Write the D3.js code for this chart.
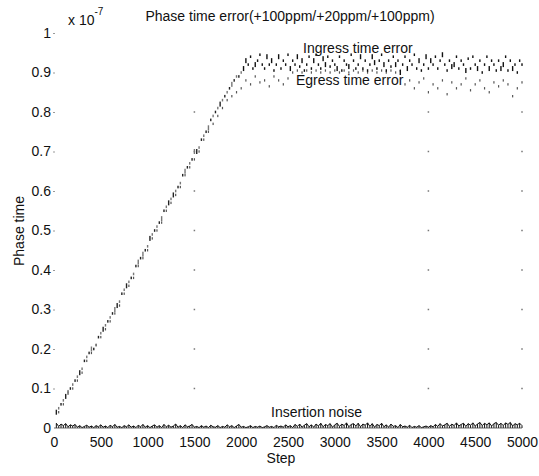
<!DOCTYPE html>
<html>
<head>
<meta charset="utf-8">
<script src="https://cdn.jsdelivr.net/npm/d3@7"></script>
<style>
  html, body { margin: 0; padding: 0; background: #fff; }
  svg text { font-family: "Liberation Sans", Arial, sans-serif; fill: #111; }
</style>
</head>
<body>
<svg id="chart" width="539" height="476"></svg>
<script>
// Phase time error, values in units of 1e-7
const xTicks = [0, 500, 1000, 1500, 2000, 2500, 3000, 3500, 4000, 4500, 5000];
const yTicks = [0, 0.1, 0.2, 0.3, 0.4, 0.5, 0.6, 0.7, 0.8, 0.9, 1];
const yTickLabels = ["0", "0.1", "0.2", "0.3", "0.4", "0.5", "0.6", "0.7", "0.8", "0.9", "1"];

// Ingress time error, sampled every 25 steps (25 .. 5000)
const ingressValues = [
  0.04, 0.05, 0.06, 0.07, 0.08, 0.09, 0.10, 0.11, 0.12, 0.13,
  0.14, 0.15, 0.17, 0.18, 0.19, 0.20, 0.20, 0.21, 0.23, 0.24,
  0.25, 0.26, 0.27, 0.28, 0.29, 0.30, 0.31, 0.32, 0.34, 0.35,
  0.36, 0.37, 0.38, 0.39, 0.41, 0.42, 0.43, 0.44, 0.45, 0.46,
  0.48, 0.49, 0.50, 0.51, 0.52, 0.53, 0.55, 0.56, 0.57, 0.58,
  0.59, 0.60, 0.61, 0.62, 0.64, 0.65, 0.66, 0.67, 0.68, 0.70,
  0.70, 0.71, 0.73, 0.74, 0.75, 0.76, 0.78, 0.79, 0.80, 0.81,
  0.82, 0.83, 0.84, 0.85, 0.86, 0.87, 0.88, 0.89, 0.89, 0.90,
  0.91, 0.93, 0.92, 0.94, 0.91, 0.92, 0.93, 0.945, 0.92, 0.91,
  0.94, 0.92, 0.93, 0.905, 0.92, 0.94, 0.91, 0.93, 0.92, 0.945,
  0.91, 0.93, 0.92, 0.94, 0.915, 0.93, 0.905, 0.92, 0.94, 0.91,
  0.93, 0.945, 0.92, 0.91, 0.935, 0.92, 0.94, 0.915, 0.93, 0.92,
  0.91, 0.94, 0.905, 0.93, 0.92, 0.915, 0.945, 0.93, 0.91, 0.92,
  0.94, 0.91, 0.93, 0.905, 0.92, 0.94, 0.925, 0.91, 0.93, 0.945,
  0.92, 0.905, 0.93, 0.915, 0.94, 0.92, 0.93, 0.90, 0.92, 0.94,
  0.91, 0.93, 0.92, 0.945, 0.91, 0.93, 0.905, 0.92, 0.94, 0.91,
  0.93, 0.92, 0.94, 0.91, 0.93, 0.945, 0.92, 0.905, 0.93, 0.915,
  0.92, 0.94, 0.91, 0.93, 0.92, 0.905, 0.935, 0.91, 0.94, 0.92,
  0.91, 0.93, 0.90, 0.92, 0.94, 0.91, 0.93, 0.92, 0.905, 0.93,
  0.91, 0.92, 0.94, 0.905, 0.93, 0.91, 0.92, 0.90, 0.93, 0.92
];

// Egress time error, sampled every 50 steps (50 .. 5000)
const egressValues = [
  0.04, 0.06, 0.09, 0.10, 0.12, 0.14, 0.17, 0.19, 0.21, 0.23,
  0.25, 0.27, 0.29, 0.31, 0.34, 0.36, 0.38, 0.41, 0.43, 0.45,
  0.48, 0.50, 0.52, 0.55, 0.57, 0.59, 0.61, 0.64, 0.66, 0.68,
  0.70, 0.73, 0.75, 0.77, 0.79, 0.81, 0.83, 0.84, 0.85, 0.86,
  0.88, 0.87, 0.89, 0.875, 0.88, 0.865, 0.89, 0.88, 0.87, 0.885,
  0.90, 0.905, 0.90, 0.905, 0.90, 0.905, 0.90, 0.905, 0.90, 0.905,
  0.90, 0.905, 0.90, 0.905, 0.90, 0.905, 0.90, 0.905, 0.90, 0.905,
  0.90, 0.905, 0.90, 0.905, 0.87, 0.88, 0.86, 0.875, 0.885, 0.85,
  0.87, 0.86, 0.88, 0.845, 0.875, 0.86, 0.87, 0.885, 0.855, 0.87,
  0.88, 0.86, 0.85, 0.875, 0.865, 0.88, 0.87, 0.84, 0.86, 0.875
];

// Insertion noise, sampled every 25 steps (25 .. 5000)
const noiseValues = [
  0.012, 0.004, 0.010, 0.006, 0.011, 0.003, 0.008, 0.005, 0.009, 0.002,
  0.006, 0.001, 0.004, 0.007, 0.002, 0.005, 0.001, 0.006, 0.003, 0.008,
  0.002, 0.005, 0.001, 0.007, 0.003, 0.009, 0.002, 0.004, 0.001, 0.006,
  0.003, 0.008, 0.002, 0.005, 0.001, 0.007, 0.003, 0.009, 0.002, 0.006,
  0.001, 0.005, 0.008, 0.002, 0.006, 0.001, 0.009, 0.003, 0.007, 0.002,
  0.005, 0.010, 0.002, 0.006, 0.001, 0.008, 0.003, 0.005, 0.009, 0.002,
  0.004, 0.001, 0.006, 0.002, 0.005, 0.001, 0.007, 0.003, 0.002, 0.006,
  0.001, 0.004, 0.002, 0.008, 0.003, 0.006, 0.001, 0.005, 0.009, 0.002,
  0.004, 0.001, 0.003, 0.006, 0.001, 0.004, 0.002, 0.005, 0.001, 0.003,
  0.006, 0.002, 0.004, 0.001, 0.007, 0.003, 0.005, 0.002, 0.008, 0.003,
  0.006, 0.001, 0.009, 0.004, 0.010, 0.002, 0.007, 0.011, 0.003, 0.008,
  0.002, 0.010, 0.005, 0.012, 0.003, 0.009, 0.006, 0.011, 0.002, 0.008,
  0.012, 0.004, 0.010, 0.006, 0.013, 0.003, 0.009, 0.011, 0.005, 0.012,
  0.003, 0.010, 0.007, 0.013, 0.004, 0.011, 0.002, 0.009, 0.006, 0.012,
  0.003, 0.008, 0.002, 0.010, 0.004, 0.006, 0.001, 0.009, 0.003, 0.005,
  0.002, 0.007, 0.001, 0.004, 0.002, 0.006, 0.001, 0.003, 0.005, 0.002,
  0.006, 0.003, 0.009, 0.004, 0.011, 0.005, 0.008, 0.012, 0.004, 0.010,
  0.006, 0.013, 0.005, 0.009, 0.012, 0.004, 0.011, 0.007, 0.013, 0.005,
  0.010, 0.014, 0.006, 0.012, 0.008, 0.013, 0.005, 0.011, 0.014, 0.007,
  0.012, 0.006, 0.013, 0.009, 0.014, 0.005, 0.011, 0.008, 0.012, 0.006
];

const ingressSteps = d3.range(1, ingressValues.length + 1).map(i => i * 25);
const egressSteps = d3.range(1, egressValues.length + 1).map(i => i * 50);
const noiseSteps = d3.range(1, noiseValues.length + 1).map(i => i * 25);

// faint grid remnants: columns of dots at these steps
const gridDotSteps = [1500, 4000, 5000];
const gridDotLevels = [0.1, 0.2, 0.3, 0.4, 0.5, 0.6, 0.7, 0.8];

const FONT = '"Liberation Sans", Arial, sans-serif';
const svg = d3.select("#chart");
const x = d3.scaleLinear().domain([0, 5000]).range([54, 522]);
const y = d3.scaleLinear().domain([0, 1]).range([428, 33]);

// y axis (tick labels with small tick stubs)
const yAxis = d3.axisLeft(y).tickValues(yTicks)
  .tickFormat((d, i) => yTickLabels[i]).tickSize(2).tickPadding(2);
const gy = svg.append("g").attr("transform", "translate(55,0)").call(yAxis);
gy.select(".domain").remove();
gy.selectAll(".tick line").attr("stroke", "#999");
gy.selectAll(".tick text").attr("font-size", 14).attr("fill", "#111").style("font-family", FONT);
gy.select(".tick:first-of-type line").remove();

// x axis (tick labels only)
const xAxis = d3.axisBottom(x).tickValues(xTicks).tickFormat(d3.format("d"))
  .tickSize(0).tickPadding(10);
const gx = svg.append("g").attr("transform", "translate(0,427)").call(xAxis);
gx.select(".domain").remove();
gx.selectAll(".tick text").attr("font-size", 14).attr("fill", "#111").style("font-family", FONT);

// grid dots
const dots = [];
gridDotSteps.forEach(s => gridDotLevels.forEach(v => dots.push([s, v])));
svg.append("g").selectAll("rect").data(dots).join("rect")
  .attr("x", d => x(d[0]) - 0.75).attr("y", d => y(d[1]) - 0.75)
  .attr("width", 1.5).attr("height", 1.5).attr("fill", "#777");

// insertion noise: stems plus a jagged trace
const noise = noiseValues.map((v, i) => [noiseSteps[i], v]);
svg.append("g").selectAll("line").data(noise).join("line")
  .attr("x1", d => x(d[0])).attr("x2", d => x(d[0]))
  .attr("y1", y(0)).attr("y2", d => y(d[1]))
  .attr("stroke", "#111").attr("stroke-width", 1);
svg.append("path").datum(noise)
  .attr("fill", "none").attr("stroke", "#111").attr("stroke-width", 1)
  .attr("d", d3.line().x(d => x(d[0])).y(d => y(d[1])));
svg.append("line")
  .attr("x1", x(0)).attr("x2", x(5000)).attr("y1", y(0)).attr("y2", y(0))
  .attr("stroke", "#444").attr("stroke-width", 0.8);

// egress points
svg.append("g").selectAll("rect").data(egressValues.map((v, i) => [egressSteps[i], v]))
  .join("rect")
  .attr("x", d => x(d[0]) - 0.6).attr("y", d => y(d[1]) - 1.2)
  .attr("width", 1.2).attr("height", 2.4).attr("fill", "#555");

// ingress points: lighter on the ramp, darker strokes on the plateau
const tall = i => (i * 7) % 5 === 0 || (i * 3) % 11 === 1;
svg.append("g").selectAll("rect").data(ingressValues.map((v, i) => [ingressSteps[i], v]))
  .join("rect")
  .attr("x", d => x(d[0]) - 0.7)
  .attr("y", (d, i) => y(d[1]) - (tall(i) ? 2.5 : 1.3))
  .attr("width", 1.4)
  .attr("height", (d, i) => tall(i) ? 5 : 2.6)
  .attr("fill", (d, i) => d[0] <= 2000 ? (i % 2 ? "#777" : "#222") : "#111");

// titles and labels
svg.append("text").attr("x", 290).attr("y", 21).attr("text-anchor", "middle")
  .attr("font-size", 14).text("Phase time error(+100ppm/+20ppm/+100ppm)");
const exp = svg.append("text").attr("x", 68).attr("y", 25).attr("font-size", 14);
exp.append("tspan").text("x 10");
exp.append("tspan").attr("dy", -10).attr("font-size", 10).text("-7");

svg.append("text").attr("x", 303).attr("y", 53).attr("font-size", 14).text("Ingress time error");
svg.append("text").attr("x", 296).attr("y", 85).attr("font-size", 14).text("Egress time error");
svg.append("text").attr("x", 271).attr("y", 417).attr("font-size", 14).text("Insertion noise");

svg.append("text").attr("x", 281).attr("y", 463).attr("text-anchor", "middle")
  .attr("font-size", 14).text("Step");
svg.append("text").attr("transform", "translate(24,231) rotate(-90)")
  .attr("text-anchor", "middle").attr("font-size", 14).text("Phase time");
</script>
</body>
</html>
